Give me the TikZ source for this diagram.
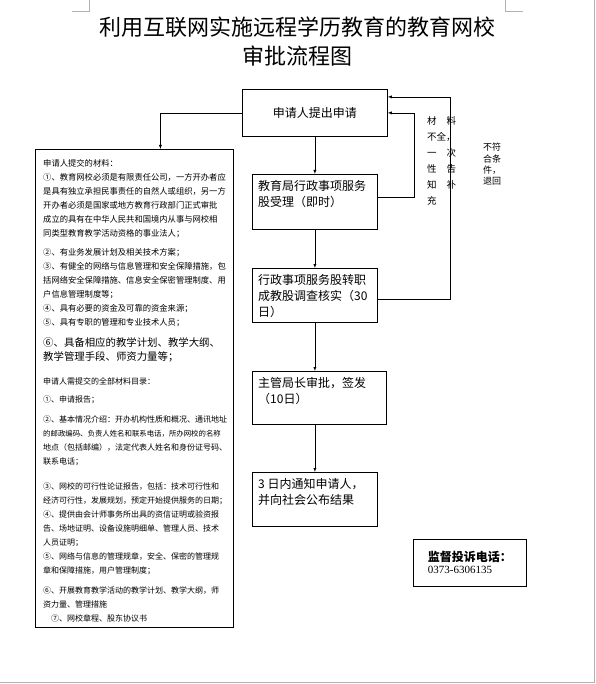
\documentclass[tikz,border=0pt]{standalone}
\usepackage{fontspec}
\setmainfont{Noto Sans CJK SC}
\newfontfamily\telfont{Liberation Serif}
\usetikzlibrary{positioning}

\begin{document}
\begin{tikzpicture}[x=1pt, y=-1pt, >=latex]
        \tikzstyle{stepbox}=[draw, rectangle, line width=0.8pt, anchor=north west, inner sep=0pt, font=\fontsize{12}{16}\selectfont]
        \tikzstyle{boxtext}=[anchor=north west, align=left, inner xsep=6pt, inner ysep=6pt, font=\fontsize{12}{16}\selectfont]
        \tikzstyle{note}=[anchor=north west, align=left, inner sep=0pt]
        \tikzstyle{pagemark}=[draw=gray!60, line width=0.8pt]

        \useasboundingbox (0,0) rectangle (595,684);

        % page corners
        \draw[pagemark] (72,11) -- (89,11) -- (89,0);
        \draw[pagemark] (505,0) -- (505,11) -- (523,11);
        \draw[pagemark] (594,0) -- (594,682) -- (0,682);

        \node[font=\fontsize{22}{29}\selectfont, align=center] (title) at (297,42) {利用互联网实施远程学历教育的教育网校\\审批流程图};

        \node[stepbox, minimum width=145pt, minimum height=47pt] (apply) at (242,89) {申请人提出申请};

        \node[stepbox, minimum width=125pt, minimum height=55pt] (accept) at (252,174) {};
        \node[boxtext] (accepttxt) at (accept.north west) {教育局行政事项服务\\股受理（即时）};

        \node[stepbox, minimum width=125pt, minimum height=54pt] (check) at (252,268) {};
        \node[boxtext] (checktxt) at (check.north west) {行政事项服务股转职\\成教股调查核实（30\\日）};

        \node[stepbox, minimum width=134pt, minimum height=53pt] (sign) at (252,371) {};
        \node[boxtext] (signtxt) at (sign.north west) {主管局长审批，签发\\（10日）};

        \node[stepbox, minimum width=125pt, minimum height=54pt] (notify) at (252,472) {};
        \node[boxtext] (notifytxt) at (notify.north west) {3 日内通知申请人，\\并向社会公布结果};

        % materials
        \node[stepbox, minimum width=198pt, minimum height=478pt] (materials) at (35,149) {};
        \node[note, font=\fontsize{8.3}{14}\selectfont] (materialstxt) at (43,159) {申请人提交的材料：\\
①、教育网校必须是有限责任公司，一方开办者应\\
是具有独立承担民事责任的自然人或组织，另一方\\
开办者必须是国家或地方教育行政部门正式审批\\
成立的具有在中华人民共和国境内从事与网校相\\
同类型教育教学活动资格的事业法人；\\[5pt]
②、有业务发展计划及相关技术方案；\\
③、有健全的网络与信息管理和安全保障措施，包\\
括网络安全保障措施、信息安全保密管理制度、用\\
户信息管理制度等；\\
④、具有必要的资金及可靠的资金来源；\\
⑤、具有专职的管理和专业技术人员；\\[7pt]
{\fontsize{10.4}{14}\selectfont ⑥、具备相应的教学计划、教学大纲、}\\
{\fontsize{10.4}{14}\selectfont 教学管理手段、师资力量等；}};
        \node[note, font=\fontsize{8}{14}\selectfont] (listtxt) at (43,377) {申请人需提交的全部材料目录：\\[4pt]
①、申请报告；\\[6pt]
②、基本情况介绍：开办机构性质和概况、通讯地址\\
{\fontsize{7.4}{14}\selectfont 的邮政编码、负责人姓名和联系电话，所办网校的名称}\\
地点（包括邮编），法定代表人姓名和身份证号码、\\
联系电话；\\[11pt]
③、网校的可行性论证报告，包括：技术可行性和\\
经济可行性，发展规划，预定开始提供服务的日期；\\
④、提供由会计师事务所出具的资信证明或验资报\\
告、场地证明、设备设施明细单、管理人员、技术\\
人员证明；\\
⑤、网络与信息的管理规章，安全、保密的管理规\\
章和保障措施，用户管理制度；\\[6pt]
⑥、开展教育教学活动的教学计划、教学大纲，师\\
资力量、管理措施\\
\hspace*{8pt}⑦、网校章程、股东协议书};

        \node[note, font=\fontsize{9.5}{16}\selectfont] (lacknote) at (427,116) {材\hspace{10pt}料\\不全，\\一\hspace{10pt}次\\性\hspace{10pt}告\\知\hspace{10pt}补\\充};
        \node[note, font=\fontsize{9}{11.3}\selectfont] (rejectnote) at (483,143) {不符\\合条\\件，\\退回};

        \node[draw, line width=0.8pt, anchor=north west, align=left, minimum width=113pt, minimum height=47pt, inner xsep=6pt, inner ysep=5pt] (hotline) at (413,539) {{\fontsize{12}{16}\selectfont\bfseries 监督投诉电话：}\\{\telfont\fontsize{11}{14}\selectfont 0373-6306135}};

        \draw[->] (apply.west) -| ([xshift=26pt]materials.north);
        \draw[->] (apply.south) -- (accept.north);
        \draw[->] (accept.south) -- (check.north);
        \draw[->] (check.south) -- (check.south |- sign.north);
        \draw[->] (notify.north |- sign.south) -- (notify.north);
        \draw[->] ([yshift=4.5pt]accept.east) -- ++(36,0) |- (apply.east);
        \draw[->] ([yshift=-4pt]check.east) -- ++(72,0) |- ([yshift=16pt]apply.east);
    \end{tikzpicture}
\end{document}
